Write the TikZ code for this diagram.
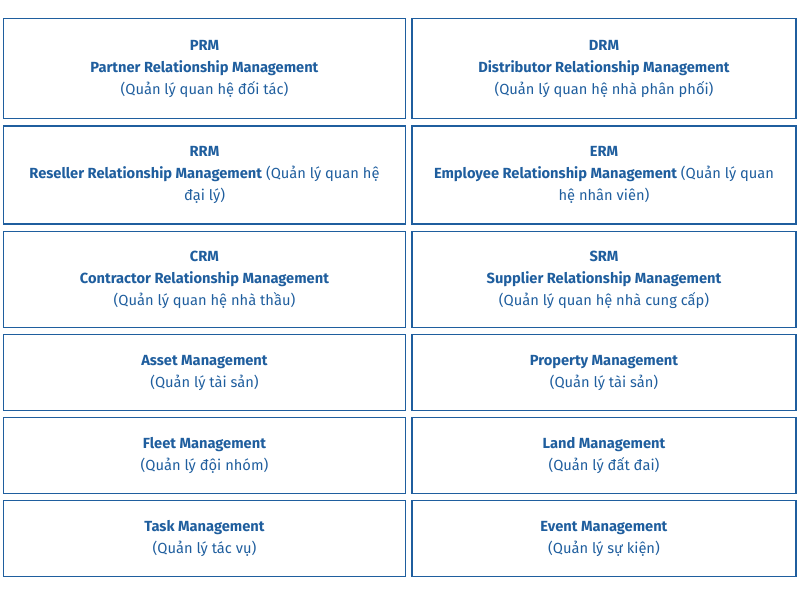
\documentclass[tikz,border=0pt]{standalone}
\usepackage{fontspec}
\setmainfont{Fira Sans}
\usepackage{xcolor}
\definecolor{boxblue}{HTML}{1F5E9E}
\begin{document}
\begin{tikzpicture}[x=0.75pt,y=-0.75pt]
	\tikzstyle{mgbox}=[draw=boxblue, line width=0.9pt, rectangle, inner sep=0pt, text=boxblue, align=center, font=\fontsize{11}{16.5}\selectfont]
	\tikzstyle{lbox}=[mgbox, minimum width=302pt]
	\tikzstyle{rbox}=[mgbox, minimum width=288pt]
	\useasboundingbox (0,0) rectangle (800,600);

	\node[lbox, minimum height=75.5pt] (prm) at (204.5,68.5) {\textbf{PRM}\\ \textbf{Partner Relationship Management}\\ (Quản lý quan hệ đối tác)};
	\node[rbox, minimum height=75.5pt] (drm) at (604,68.5) {\textbf{DRM}\\ \textbf{Distributor Relationship Management}\\ (Quản lý quan hệ nhà phân phối)};

	\node[lbox, minimum height=73.5pt] (rrm) at (204.5,175) {\textbf{RRM}\\ \textbf{Reseller Relationship Management} (Quản lý quan hệ\\ đại lý)};
	\node[rbox, minimum height=73.5pt] (erm) at (604,175) {\textbf{ERM}\\ \textbf{Employee Relationship Management} (Quản lý quan\\ hệ nhân viên)};

	\node[lbox, minimum height=72.5pt] (crm) at (204.5,279.5) {\textbf{CRM}\\ \textbf{Contractor Relationship Management}\\ (Quản lý quan hệ nhà thầu)};
	\node[rbox, minimum height=72.5pt] (srm) at (604,279.5) {\textbf{SRM}\\ \textbf{Supplier Relationship Management}\\ (Quản lý quan hệ nhà cung cấp)};

	\node[lbox, minimum height=57.5pt] (asset) at (204.5,372.5) {\textbf{Asset Management}\\ (Quản lý tài sản)};
	\node[rbox, minimum height=57.5pt] (property) at (604,372.5) {\textbf{Property Management}\\ (Quản lý tài sản)};

	\node[lbox, minimum height=57.5pt] (fleet) at (204.5,455.5) {\textbf{Fleet Management}\\ (Quản lý đội nhóm)};
	\node[rbox, minimum height=57.5pt] (land) at (604,455.5) {\textbf{Land Management}\\ (Quản lý đất đai)};

	\node[lbox, minimum height=57.5pt] (task) at (204.5,538.5) {\textbf{Task Management}\\ (Quản lý tác vụ)};
	\node[rbox, minimum height=57.5pt] (event) at (604,538.5) {\textbf{Event Management}\\ (Quản lý sự kiện)};
\end{tikzpicture}
\end{document}
